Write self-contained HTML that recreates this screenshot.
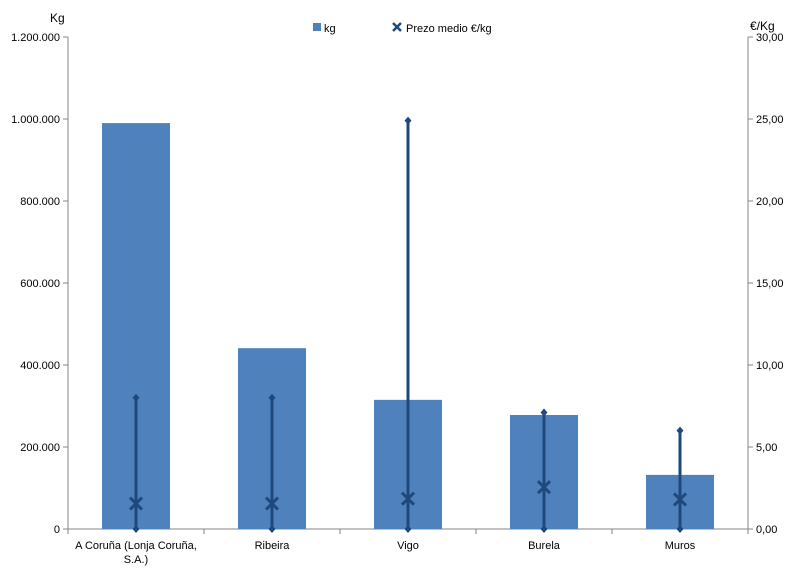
<!DOCTYPE html>
<html><head><meta charset="utf-8"><style>
body{margin:0;background:#fff;}
svg{display:block;font-family:"Liberation Sans",sans-serif;}
</style></head><body>
<svg id="c" width="795" height="573" viewBox="0 0 795 573">
<g id="g"></g>
</svg>
<script>
const categories=["A Coruña (Lonja Coruña,|S.A.)","Ribeira","Vigo","Burela","Muros"];
const kgValues=[990000,441000,315000,278000,132000];
const priceHigh=[8.0,8.0,24.9,7.1,6.0];
const priceLow=[0,0,0,0,0];
const priceMean=[1.55,1.55,1.85,2.55,1.8];
const leftTicks=["0","200.000","400.000","600.000","800.000","1.000.000","1.200.000"];
const rightTicks=["0,00","5,00","10,00","15,00","20,00","25,00","30,00"];

const NS="http://www.w3.org/2000/svg";
const g=document.getElementById('g');
const X0=68,X1=748,Y0=529,Y1=37;
const yL=v=>Y0-(v/1200000)*(Y0-Y1);
const yR=v=>Y0-(v/30)*(Y0-Y1);
const step=(X1-X0)/categories.length;
const xC=i=>X0+step*(i+0.5);
function el(t,a,txt){const e=document.createElementNS(NS,t);for(const k in a)e.setAttribute(k,a[k]);if(txt!=null)e.textContent=txt;g.appendChild(e);return e;}

// axes
let e;
e=el('line',{x1:X0,y1:Y1,x2:X0,y2:Y0,stroke:'#868686'});


e=el('line',{x1:X1,y1:Y1,x2:X1,y2:Y0,stroke:'#868686'});


e=el('line',{x1:X0,y1:Y0,x2:X1,y2:Y0,stroke:'#868686'});



leftTicks.forEach((t,i)=>{
  const y=yL(i*200000);
  el('line',{x1:X0-5,y1:y,x2:X0,y2:y,stroke:'#868686'});
  e=el('text',{x:X0-8,y:y+4,'text-anchor':'end','font-size':11,fill:'#000'},t);
  
  
});
rightTicks.forEach((t,i)=>{
  const y=yR(i*5);
  el('line',{x1:X1,y1:y,x2:X1+5,y2:y,stroke:'#868686'});
  e=el('text',{x:X1+8,y:y+4,'text-anchor':'start','font-size':11,fill:'#000'},t);
  
  
});
for(let i=0;i<=categories.length;i++){
  const x=X0+step*i;
  el('line',{x1:x,y1:Y0,x2:x,y2:Y0+5,stroke:'#868686'});
}
e=el('text',{x:50,y:22,'font-size':12},'Kg');


e=el('text',{x:750,y:30,'font-size':12},'€/Kg');



const bw=68;
categories.forEach((c,i)=>{
  const x=xC(i);
  e=el('rect',{x:x-bw/2,y:yL(kgValues[i]),width:bw,height:Y0-yL(kgValues[i]),fill:'#4f81bd'});
  
  
  const lines=c.split('|');
  lines.forEach((l,j)=>{
    e=el('text',{x:x,y:Y0+20+j*14,'text-anchor':'middle','font-size':11},l);
    
    
  });
});
categories.forEach((c,i)=>{
  const x=xC(i),yh=yR(priceHigh[i]),yl=yR(priceLow[i]),ym=yR(priceMean[i]);
  e=el('line',{x1:x,y1:yh,x2:x,y2:yl,stroke:'#1f497d','stroke-width':3});
  
  
  e=el('path',{d:`M${x} ${yh-4}L${x+3.5} ${yh}L${x} ${yh+4}L${x-3.5} ${yh}Z`,fill:'#1f497d'});
  
  
  e=el('path',{d:`M${x} ${yl-4}L${x+3.5} ${yl}L${x} ${yl+4}L${x-3.5} ${yl}Z`,fill:'#1f497d'});
  
  
  e=el('path',{d:`M${x-6} ${ym-6}L${x+6} ${ym+6}M${x+6} ${ym-6}L${x-6} ${ym+6}`,stroke:'#1f497d','stroke-width':3});
  
  
});
// legend
e=el('rect',{x:313,y:23,width:8,height:8,fill:'#4f81bd'});


e=el('text',{x:324,y:32,'font-size':11},'kg');


e=el('path',{d:'M393 23L401 31M401 23L393 31',stroke:'#1f497d','stroke-width':2.5});


e=el('text',{x:406,y:32,'font-size':11},'Prezo medio €/kg');


</script>
</body></html>
